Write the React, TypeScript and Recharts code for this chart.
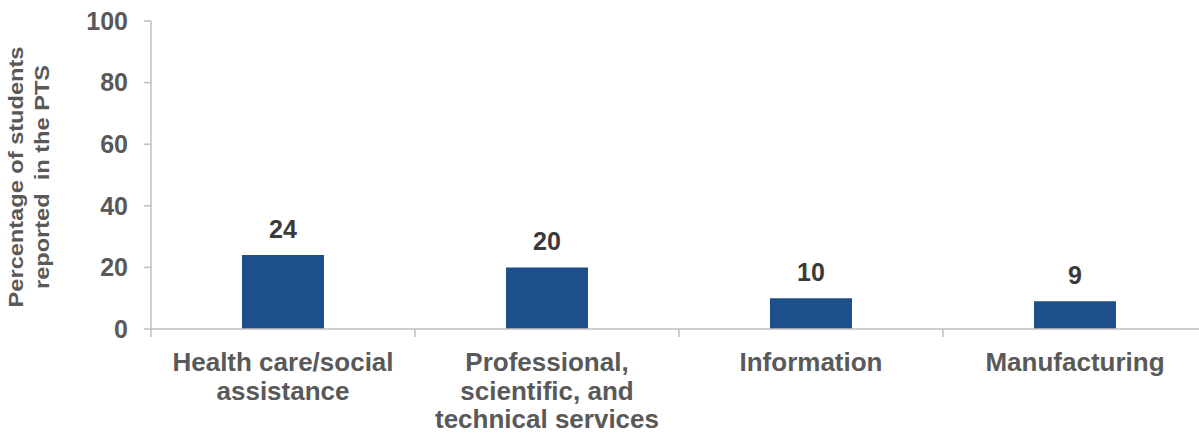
import React from 'react';
import { BarChart, Bar, XAxis, YAxis, LabelList, Label } from 'recharts';

const categories = [
  'Health care/social\nassistance',
  'Professional,\nscientific, and\ntechnical services',
  'Information',
  'Manufacturing',
];
const percentages = [24, 20, 10, 9];
const yTicks = [0, 20, 40, 60, 80, 100];

const data = categories.map((name, i) => ({ name, value: percentages[i] }));

const FONT = '"Liberation Sans", Arial, sans-serif';
const TEXT_GREY = '#595959';
const AXIS_GREY = '#bfbfbf';
const BAR_BLUE = '#1d4f8a';

const CategoryTick = (props: any) => {
  const { x, y, payload } = props;
  const half = payload.offset ?? 132;
  const lines = String(payload.value).split('\n');
  return (
    <g>
      <line x1={x - half} y1={y - 8} x2={x - half} y2={y} stroke={AXIS_GREY} strokeWidth={1.5} />
      <text
        x={x}
        y={y}
        textAnchor="middle"
        fill={TEXT_GREY}
        fontSize={26}
        fontWeight="bold"
        fontFamily={FONT}
      >
        {lines.map((l, i) => (
          <tspan key={i} x={x} y={y + 34 + i * 28.5}>
            {l}
          </tspan>
        ))}
      </text>
    </g>
  );
};

// the rotated title is stretched along its length in the original
const AxisTitle = () => (
  <text
    transform="translate(0,177) rotate(-90) scale(1.18,1)"
    textAnchor="middle"
    fill={TEXT_GREY}
    fontSize={20}
    fontWeight="bold"
    fontFamily={FONT}
    style={{ whiteSpace: 'pre' }}
  >
    <tspan x={0} y={23}>Percentage of students</tspan>
    <tspan x={0} y={49}>reported  in the PTS</tspan>
  </text>
);

export default function App() {
  return (
    <div
      style={{
        position: 'fixed',
        left: 0,
        top: 0,
        width: 1199,
        height: 433,
        overflow: 'hidden',
        background: '#fff',
      }}
    >
      <BarChart
        width={1208}
        height={433}
        data={data}
        margin={{ top: 21, right: 1, bottom: 0, left: 0 }}
        barSize={82}
      >
        <XAxis
          dataKey="name"
          height={104}
          interval={0}
          axisLine={{ stroke: AXIS_GREY, strokeWidth: 1.5 }}
          tickLine={{ stroke: 'none' }}
          tickSize={8}
          tickMargin={0}
          tick={<CategoryTick />}
        />
        <YAxis
          width={151}
          domain={[0, 100]}
          ticks={yTicks}
          interval={0}
          axisLine={{ stroke: AXIS_GREY, strokeWidth: 1.5 }}
          tickLine={{ stroke: AXIS_GREY, strokeWidth: 1.5 }}
          tickSize={7}
          tickMargin={16}
          tick={{ fill: TEXT_GREY, fontSize: 25, fontWeight: 'bold', fontFamily: FONT }}
        >
          <Label content={<AxisTitle />} />
        </YAxis>
        <Bar dataKey="value" fill={BAR_BLUE} isAnimationActive={false}>
          <LabelList
            dataKey="value"
            position="top"
            offset={17}
            fill="#3a3a3a"
            fontSize={25}
            fontWeight="bold"
            fontFamily={FONT}
          />
        </Bar>
      </BarChart>
    </div>
  );
}
